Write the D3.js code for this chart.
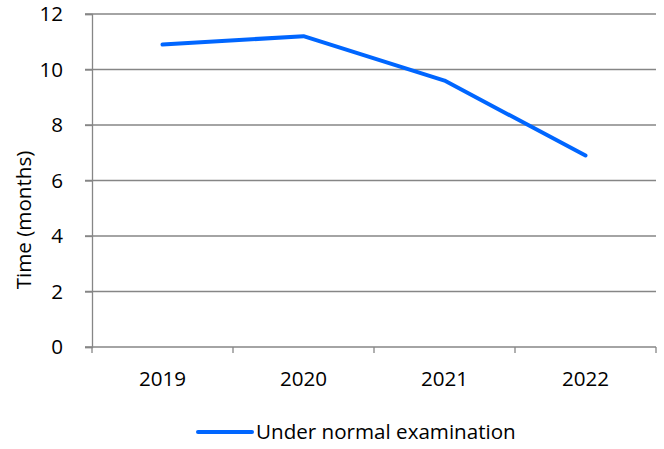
<!DOCTYPE html>
<html>
<head>
<meta charset="utf-8">
<script src="https://cdn.jsdelivr.net/npm/d3@7"></script>
<style>
  html, body { margin: 0; padding: 0; background: #fff; }
  svg { display: block; font-family: "Open Sans", "Noto Sans", sans-serif; }
</style>
</head>
<body>
<svg id="chart" width="664" height="449"></svg>
<script>
// Average examination time per year
const years = ["2019", "2020", "2021", "2022"];
const months = [10.9, 11.2, 9.6, 6.9];
const yTicks = [0, 2, 4, 6, 8, 10, 12];
const seriesName = "Under normal examination";

const svg = d3.select("#chart");
const margin = { left: 92, right: 8, top: 14, bottom: 102 };
const W = 664, H = 449;
const axisColor = "#868686";
const lineColor = "#0066ff";
const fontSize = 20.6;

const x = d3.scaleBand().domain(years).range([margin.left, W - margin.right]).padding(0);
const y = d3.scaleLinear().domain([0, 12]).range([H - margin.bottom, margin.top]);

// horizontal gridlines
svg.append("g")
  .selectAll("line")
  .data(yTicks.filter(d => d > 0))
  .join("line")
  .attr("x1", margin.left - 7).attr("x2", W - margin.right)
  .attr("y1", d => y(d)).attr("y2", d => y(d))
  .attr("stroke", axisColor).attr("stroke-width", 1.3);

// y axis
const yAxis = svg.append("g")
  .attr("transform", `translate(${margin.left},0)`)
  .call(d3.axisLeft(y).tickValues(yTicks).tickSize(7).tickPadding(22));
yAxis.select(".domain").attr("stroke", axisColor).attr("stroke-width", 1.3);
yAxis.selectAll(".tick line").attr("stroke", axisColor).attr("stroke-width", 1.3);
yAxis.selectAll(".tick text").attr("font-size", fontSize).attr("fill", "#000")
  .attr("font-family", "'Open Sans', sans-serif");

// x axis with ticks at band edges
const xAxisG = svg.append("g").attr("transform", `translate(0,${y(0)})`);
xAxisG.append("line")
  .attr("x1", margin.left - 7).attr("x2", W - margin.right)
  .attr("stroke", axisColor).attr("stroke-width", 1.3);
const edges = years.map(d => x(d)).concat([x(years[years.length - 1]) + x.bandwidth()]);
xAxisG.selectAll("line.edge")
  .data(edges)
  .join("line")
  .attr("class", "edge")
  .attr("x1", d => d).attr("x2", d => d)
  .attr("y1", 0).attr("y2", 6)
  .attr("stroke", axisColor).attr("stroke-width", 1.3);
xAxisG.selectAll("text")
  .data(years)
  .join("text")
  .attr("x", d => x(d) + x.bandwidth() / 2)
  .attr("y", 39)
  .attr("text-anchor", "middle")
  .attr("font-size", fontSize)
  .attr("fill", "#000")
  .text(d => d);

// y axis title
svg.append("text")
  .attr("transform", "translate(31,220) rotate(-90)")
  .attr("text-anchor", "middle")
  .attr("font-size", fontSize)
  .attr("fill", "#000")
  .text("Time (months)");

// series line
const line = d3.line()
  .x((d, i) => x(years[i]) + x.bandwidth() / 2)
  .y(d => y(d));
svg.append("path")
  .datum(months)
  .attr("d", line)
  .attr("fill", "none")
  .attr("stroke", lineColor)
  .attr("stroke-width", 4)
  .attr("stroke-linecap", "round")
  .attr("stroke-linejoin", "round");

// legend
const lg = svg.append("g").attr("transform", "translate(198,432)");
lg.append("line")
  .attr("x1", 0).attr("x2", 54)
  .attr("stroke", lineColor).attr("stroke-width", 4)
  .attr("stroke-linecap", "round");
lg.append("text")
  .attr("x", 58).attr("y", 7)
  .attr("font-size", fontSize)
  .attr("fill", "#000")
  .text(seriesName);
</script>
</body>
</html>
